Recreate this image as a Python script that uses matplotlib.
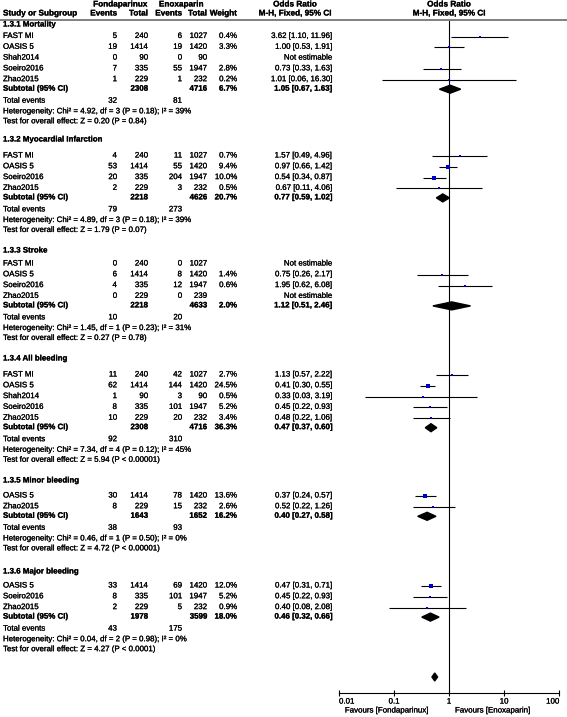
import matplotlib
matplotlib.use("Agg")
import matplotlib.pyplot as plt
import matplotlib.patheffects as pe
from matplotlib.patches import Polygon

W, H = 567, 717  # figure size in pixels

# ---- data ----
group_titles = ["1.3.1 Mortality", "1.3.2 Myocardial Infarction", "1.3.3 Stroke",
                "1.3.4 All bleeding", "1.3.5 Minor bleeding", "1.3.6 Major bleeding"]

study_group = [0, 0, 0, 0, 0, 1, 1, 1, 1, 2, 2, 2, 2, 3, 3, 3, 3, 3, 4, 4, 5, 5, 5]
study_names = ["FAST MI", "OASIS 5", "Shah2014", "Soeiro2016", "Zhao2015",
               "FAST MI", "OASIS 5", "Soeiro2016", "Zhao2015",
               "FAST MI", "OASIS 5", "Soeiro2016", "Zhao2015",
               "FAST MI", "OASIS 5", "Shah2014", "Soeiro2016", "Zhao2015",
               "OASIS 5", "Zhao2015",
               "OASIS 5", "Soeiro2016", "Zhao2015"]
fond_events = [5, 19, 0, 7, 1, 4, 53, 20, 2, 0, 6, 4, 0, 11, 62, 1, 8, 10, 30, 8, 33, 8, 2]
fond_total = [240, 1414, 90, 335, 229, 240, 1414, 335, 229, 240, 1414, 335, 229,
              240, 1414, 90, 335, 229, 1414, 229, 1414, 335, 229]
enox_events = [6, 19, 0, 55, 1, 11, 55, 204, 3, 0, 8, 12, 0, 42, 144, 3, 101, 20, 78, 15, 69, 101, 5]
enox_total = [1027, 1420, 90, 1947, 232, 1027, 1420, 1947, 232, 1027, 1420, 1947, 239,
              1027, 1420, 90, 1947, 232, 1420, 232, 1420, 1947, 232]
weights = [0.4, 3.3, None, 2.8, 0.2, 0.7, 9.4, 10.0, 0.5, None, 1.4, 0.6, None,
           2.7, 24.5, 0.5, 5.2, 3.4, 13.6, 2.6, 12.0, 5.2, 0.9]
or_est = [3.62, 1.00, None, 0.73, 1.01, 1.57, 0.97, 0.54, 0.67, None, 0.75, 1.95, None,
          1.13, 0.41, 0.33, 0.45, 0.48, 0.37, 0.52, 0.47, 0.45, 0.40]
or_lo = [1.10, 0.53, None, 0.33, 0.06, 0.49, 0.66, 0.34, 0.11, None, 0.26, 0.62, None,
         0.57, 0.30, 0.03, 0.22, 0.22, 0.24, 0.22, 0.31, 0.22, 0.08]
or_hi = [11.96, 1.91, None, 1.63, 16.30, 4.96, 1.42, 0.87, 4.06, None, 2.17, 6.08, None,
         2.22, 0.55, 3.19, 0.93, 1.06, 0.57, 1.26, 0.71, 0.93, 2.08]

sub_fond_total = [2308, 2218, 2218, 2308, 1643, 1978]
sub_enox_total = [4716, 4626, 4633, 4716, 1652, 3599]
sub_weight = [6.7, 20.7, 2.0, 36.3, 16.2, 18.0]
sub_or = [1.05, 0.77, 1.12, 0.47, 0.40, 0.46]
sub_lo = [0.67, 0.59, 0.51, 0.37, 0.27, 0.32]
sub_hi = [1.63, 1.02, 2.46, 0.60, 0.58, 0.66]
tot_fond_events = [32, 79, 10, 92, 38, 43]
tot_enox_events = [81, 273, 20, 310, 93, 175]
het_chi2 = ["4.92", "4.89", "1.45", "7.34", "0.46", "0.04"]
het_df = [3, 3, 1, 4, 1, 2]
het_p = ["0.18", "0.18", "0.23", "0.12", "0.50", "0.98"]
het_i2 = [39, 39, 31, 45, 0, 0]
z_vals = ["0.20", "1.79", "0.27", "5.94", "4.72", "4.27"]
z_p = ["P = 0.84", "P = 0.07", "P = 0.78", "P < 0.00001", "P < 0.00001", "P < 0.0001"]

overall_or, overall_lo, overall_hi = 0.55, 0.49, 0.62

tick_vals = [0.01, 0.1, 1, 10, 100]
tick_labels = ["0.01", "0.1", "1", "10", "100"]

# ---- layout (pixels) ----
title_y = [25, 140, 251, 359, 481, 572]
first_gap = [11.5, 16, 13, 16, 15, 14]
row_step = 10.8
axis_y = 693
fs = 5.7
plt.rcParams['font.family'] = ['Liberation Sans', 'DejaVu Sans']
heavy = [pe.withStroke(linewidth=0.15, foreground="black")]  # scan looks a bit heavier

fig = plt.figure(figsize=(W / 100, H / 100), dpi=100)

# forest panel: log x, y in page pixels
fx0, fx1 = 339, 559
ax = fig.add_axes([fx0 / W, (H - axis_y) / H, (fx1 - fx0) / W, (axis_y - 20) / H])
ax.set_xscale("log")
ax.set_xlim(0.01, 100)
ax.set_ylim(axis_y, 20)
for s in ["top", "left", "right"]:
    ax.spines[s].set_visible(False)
ax.spines["bottom"].set_linewidth(0.8)
ax.set_yticks([])
ax.set_xticks(tick_vals)
ax.set_xticklabels(tick_labels, fontsize=fs)
for lab in ax.get_xticklabels():
    lab.set_path_effects(heavy)
ax.get_xticklabels()[0].set_horizontalalignment("left")
ax.get_xticklabels()[-1].set_horizontalalignment("right")
ax.minorticks_off()
ax.tick_params(axis="x", length=4, width=0.8, direction="inout", pad=2)
ax.axvline(1, color="black", lw=0.8)
ax.patch.set_alpha(0)

# text overlay in pixel coordinates
tx = fig.add_axes([0, 0, 1, 1])
tx.set_xlim(0, W)
tx.set_ylim(H, 0)
tx.axis("off")
tx.patch.set_alpha(0)

col_ev1, col_tot1, col_ev2, col_tot2, col_w, col_ci = 117, 148, 182, 207, 237, 332
or_center_l, or_center_r = 295, 449

def txt(x, y, s, ha="left", bold=False, size=fs):
    t = tx.text(x, y, s, ha=ha, va="center", fontsize=size,
                fontweight="bold" if bold else "normal")
    t.set_path_effects(heavy)

# headers
hfs = 5.9
txt(120, 5, "Fondaparinux", "center", True, hfs)
txt(181, 5, "Enoxaparin", "center", True, hfs)
txt(or_center_l, 5, "Odds Ratio", "center", True, hfs)
txt(or_center_r, 5, "Odds Ratio", "center", True, hfs)
txt(3, 14, "Study or Subgroup", bold=True, size=hfs)
txt(col_ev1, 14, "Events", "right", True, hfs)
txt(col_tot1, 14, "Total", "right", True, hfs)
txt(col_ev2, 14, "Events", "right", True, hfs)
txt(col_tot2, 14, "Total", "right", True, hfs)
txt(col_w, 14, "Weight", "right", True, hfs)
txt(or_center_l, 14, "M-H, Fixed, 95% CI", "center", True, hfs)
txt(or_center_r, 14, "M-H, Fixed, 95% CI", "center", True, hfs)
tx.plot([0, W], [20, 20], color="#808080", lw=1.4)

for g, title in enumerate(group_titles):
    y = title_y[g]
    txt(3, y, title, bold=True)
    y += first_gap[g]
    idx = [i for i, sg in enumerate(study_group) if sg == g]
    for k, i in enumerate(idx):
        if k > 0:
            y += row_step
        txt(3, y, study_names[i])
        txt(col_ev1, y, str(fond_events[i]), "right")
        txt(col_tot1, y, str(fond_total[i]), "right")
        txt(col_ev2, y, str(enox_events[i]), "right")
        txt(col_tot2, y, str(enox_total[i]), "right")
        if or_est[i] is None:
            txt(col_ci, y, "Not estimable", "right")
            continue
        txt(col_w, y, f"{weights[i]:.1f}%", "right")
        txt(col_ci, y, f"{or_est[i]:.2f} [{or_lo[i]:.2f}, {or_hi[i]:.2f}]", "right")
        ax.hlines(y, or_lo[i], or_hi[i], color="black", lw=0.8)
        side_px = max(2.0, weights[i] ** 0.5)
        ax.plot(or_est[i], y, marker="s", ms=side_px * 0.72, color="#0000cc",
                mec="#0000cc", mew=0, ls="none")
    y += 9.5
    txt(3, y, "Subtotal (95% CI)", bold=True)
    txt(col_tot1, y, str(sub_fond_total[g]), "right", True)
    txt(col_tot2, y, str(sub_enox_total[g]), "right", True)
    txt(col_w, y, f"{sub_weight[g]:.1f}%", "right", True)
    txt(col_ci, y, f"{sub_or[g]:.2f} [{sub_lo[g]:.2f}, {sub_hi[g]:.2f}]", "right", True)
    ax.add_patch(Polygon([(sub_lo[g], y), (sub_or[g], y - 4), (sub_hi[g], y),
                          (sub_or[g], y + 4)], closed=True, color="black"))
    y += 12
    txt(3, y, "Total events")
    txt(col_ev1, y, str(tot_fond_events[g]), "right")
    txt(col_ev2, y, str(tot_enox_events[g]), "right")
    y += 10.3
    txt(3, y, f"Heterogeneity: Chi\u00b2 = {het_chi2[g]}, df = {het_df[g]} "
              f"(P = {het_p[g]}); I\u00b2 = {het_i2[g]}%")
    y += 10.3
    txt(3, y, f"Test for overall effect: Z = {z_vals[g]} ({z_p[g]})")

# overall diamond (no text row)
oy = 677
ax.add_patch(Polygon([(overall_lo, oy), (overall_or, oy - 4), (overall_hi, oy),
                      (overall_or, oy + 4)], closed=True, color="black"))

txt(428, 711, "Favours [Fondaparinux]", "right")
txt(455, 711, "Favours [Enoxaparin]", "left")

fig.savefig("out.png", dpi=100)
